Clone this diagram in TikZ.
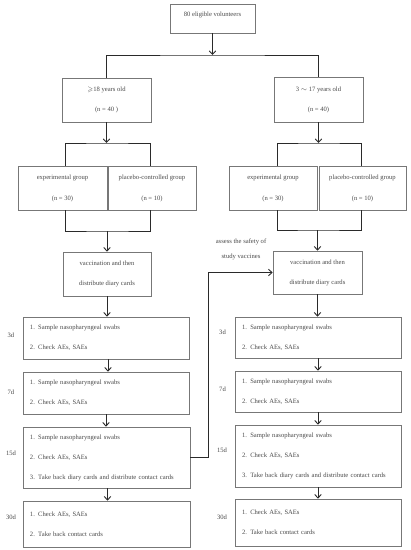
\documentclass[tikz,border=0pt]{standalone}
\usepackage{amssymb}
\usepackage{fontspec}
\setmainfont{Liberation Serif}
\usetikzlibrary{arrows.meta}
\definecolor{boxcol}{HTML}{777777}
\definecolor{linecol}{HTML}{2A2A2A}
\definecolor{txtcol}{HTML}{4A4A4A}
\begin{document}
\begin{tikzpicture}[x=1pt,y=-1pt,
  every node/.style={font=\fontsize{6.6}{20}\selectfont, text=txtcol},
  box/.style={draw=boxcol, line width=0.7pt, rectangle, inner sep=0pt, align=center},
  stepbox/.style={draw=boxcol, line width=0.7pt, rectangle, inner ysep=0pt, inner xsep=7pt, align=left},
  conn/.style={draw=linecol, line width=0.9pt},
  arr/.style={conn, -{Straight Barb[length=3.5pt,width=6.5pt]}},
  daylab/.style={inner sep=0pt}
]
\useasboundingbox (0,0) rectangle (411,550);
\fill[white] (0,0) rectangle (411,550);

% top
\node[box, minimum width=85, minimum height=29, text height=12pt, text depth=17pt] (top) at (212.5,18.5) {80 eligible volunteers};

% age groups
\node[box, minimum width=89, minimum height=44] (age1) at (106.5,100) {$\geqslant$18 years old\\(n = 40 )};
\node[box, minimum width=89, minimum height=45] (age2) at (318.5,99.5) {3 $\sim$ 17 years old\\(n = 40)};

% groups
\node[box, minimum width=89, minimum height=44, font=\fontsize{6.6}{21}\selectfont] (exp1) at (62.5,188) {experimental group\\(n = 30)};
\node[box, minimum width=88, minimum height=44, font=\fontsize{6.6}{21}\selectfont] (pla1) at (152,188) {placebo-controlled group\\(n = 10)};
\node[box, minimum width=88, minimum height=44, font=\fontsize{6.6}{21}\selectfont] (exp2) at (273,188) {experimental group\\(n = 30)};
\node[box, minimum width=87, minimum height=44, font=\fontsize{6.6}{21}\selectfont] (pla2) at (362.5,188) {placebo-controlled group\\(n = 10)};

% vaccination
\node[box, minimum width=88, minimum height=44] (vac1) at (107,274) {vaccination and then\\distribute diary cards};
\node[box, minimum width=89, minimum height=43] (vac2) at (317.5,272.5) {vaccination and then\\distribute diary cards};

\node[inner sep=0pt, align=center, font=\fontsize{6.6}{15}\selectfont] (assess) at (241,249.5) {assess the safety of\\study vaccines};

% left steps
\node[stepbox, minimum width=166, minimum height=42, text width=152] (L3) at (106,338) {1. Sample nasopharyngeal swabs\\2. Check AEs, SAEs};
\node[stepbox, minimum width=166, minimum height=42, text width=152] (L7) at (106,393) {1. Sample nasopharyngeal swabs\\2. Check AEs, SAEs};
\node[stepbox, minimum width=167, minimum height=61, text width=153] (L15) at (106.5,457.5) {1. Sample nasopharyngeal swabs\\2. Check AEs, SAEs\\3. Take back diary cards and distribute contact cards};
\node[stepbox, minimum width=167, minimum height=46, text width=153] (L30) at (106.5,524) {1. Check AEs, SAEs\\2. Take back contact cards};

% right steps
\node[stepbox, minimum width=166, minimum height=41, text width=152] (R3) at (318,337.5) {1. Sample nasopharyngeal swabs\\2. Check AEs, SAEs};
\node[stepbox, minimum width=166, minimum height=41, text width=152] (R7) at (318,391.5) {1. Sample nasopharyngeal swabs\\2. Check AEs, SAEs};
\node[stepbox, minimum width=166, minimum height=62, text width=152] (R15) at (318,456) {1. Sample nasopharyngeal swabs\\2. Check AEs, SAEs\\3. Take back diary cards and distribute contact cards};
\node[stepbox, minimum width=166, minimum height=47, text width=152] (R30) at (318,522.5) {1. Check AEs, SAEs\\2. Take back contact cards};

% day labels
\node[daylab] (dl3) at (11,335) {3d};
\node[daylab] (dl7) at (11,392) {7d};
\node[daylab] (dl15) at (11,453) {15d};
\node[daylab] (dl30) at (11,517) {30d};
\node[daylab] (dr3) at (222.5,332) {3d};
\node[daylab] (dr7) at (222.5,389) {7d};
\node[daylab] (dr15) at (222,450) {15d};
\node[daylab] (dr30) at (222,517) {30d};

% junction coordinates
\coordinate (j1) at (212.5,55);
\coordinate (j2) at (106.5,143);
\coordinate (j3) at (107,231);
\coordinate (j4) at (318.5,143);
\coordinate (j5) at (317.5,230);

% connectors
\draw[arr] (top.south) -- (j1);
\draw[conn] (age1.north) |- (j1) -| (age2.north);

\draw[arr] (age1.south) -- (j2);
\draw[conn] ([xshift=2.5pt]exp1.north) |- (j2) -| ([xshift=-2pt]pla1.north);
\draw[conn] ([xshift=2.5pt]exp1.south) |- (j3) -| ([xshift=-2pt]pla1.south);
\draw[arr] (j3) -- (vac1.north);

\draw[arr] (age2.south) -- (j4);
\draw[conn] ([xshift=4pt]exp2.north) |- (j4) -| ([xshift=-1.5pt]pla2.north);
\draw[conn] ([xshift=4pt]exp2.south) |- (j5) -| ([xshift=-1.5pt]pla2.south);
\draw[arr] (j5) -- (vac2.north);

\draw[arr] (vac1.south) -- (vac1.south |- L3.north);
\draw[arr] ([xshift=2pt]L3.south) -- ([xshift=2pt]L3.south |- L7.north);
\draw[arr] (L7.south) -- (L7.south |- L15.north);
\draw[arr] ([xshift=1pt]L15.south) -- ([xshift=1pt]L15.south |- L30.north);

\draw[arr] (vac2.south) -- (vac2.south |- R3.north);
\draw[arr] (R3.south) -- (R3.south |- R7.north);
\draw[arr] (R7.south) -- (R7.south |- R15.north);
\draw[arr] (R15.south) -- (R15.south |- R30.north);

\draw[arr] (L15.east) -- ++(18,0) |- (vac2.west);
\end{tikzpicture}
\end{document}
